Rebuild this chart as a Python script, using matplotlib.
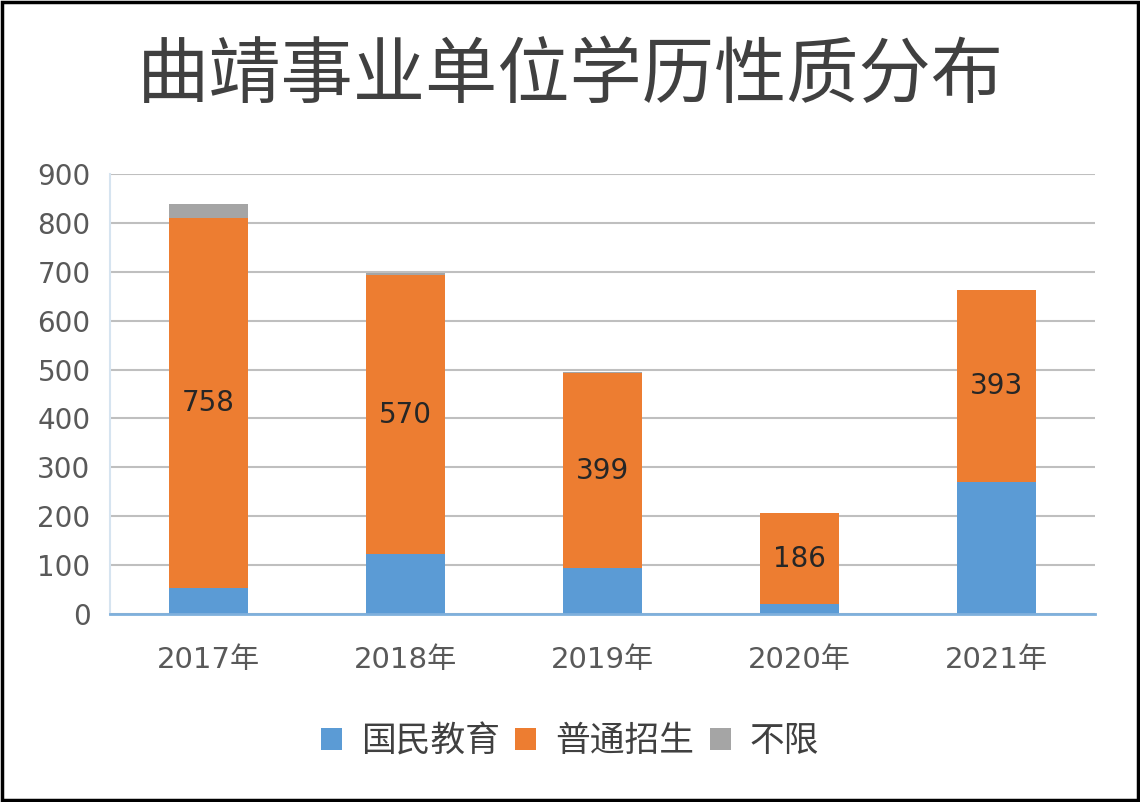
import numpy as np
import matplotlib.pyplot as plt
from matplotlib.patches import Rectangle

plt.rcParams['font.family'] = ['Noto Sans CJK SC', 'DejaVu Sans']
num_font = ['DejaVu Sans', 'Noto Sans CJK SC']

years = ['2017年', '2018年', '2019年', '2020年', '2021年']
guomin = [53, 123, 94, 20, 270]      # 国民教育
putong = [758, 570, 399, 186, 393]   # 普通招生
buxian = [27, 4, 2, 0, 0]            # 不限

blue = '#5B9BD5'
orange = '#ED7D31'
gray = '#A5A5A5'
text_col = '#595959'

fig = plt.figure(figsize=(11.4, 8.02), dpi=100)
ax = fig.add_axes([0.0965, 0.2344, 0.864, 0.5486])

x = np.arange(len(years))
w = 0.4
b1 = ax.bar(x, guomin, w, color=blue, label='国民教育', zorder=3)
b2 = ax.bar(x, putong, w, bottom=guomin, color=orange, label='普通招生', zorder=3)
bottom3 = np.array(guomin) + np.array(putong)
b3 = ax.bar(x, buxian, w, bottom=bottom3, color=gray, label='不限', zorder=3)

# value labels in the middle of the orange segment
for xi, g, p in zip(x, guomin, putong):
    ax.text(xi, g + p / 2, str(p), ha='center', va='center',
            fontsize=20, color='#262626', family=num_font, zorder=4)

ax.set_xlim(-0.5, 4.5)
ax.set_ylim(0, 900)
ax.set_yticks(range(0, 901, 100))
ax.set_xticks(x)
ax.set_xticklabels(years)
ax.tick_params(axis='both', length=0, labelcolor=text_col)
ax.tick_params(axis='x', pad=23)
ax.tick_params(axis='y', pad=14)
for lab in ax.get_yticklabels():
    lab.set_family(num_font)
    lab.set_fontsize(20)
for lab in ax.get_xticklabels():
    lab.set_family(num_font)
    lab.set_fontsize(21)
ax.grid(axis='y', color='#BFBFBF', linewidth=1.5, zorder=0)

for s in ['top', 'right']:
    ax.spines[s].set_visible(False)
ax.spines['left'].set_color('#D6E4F0')
ax.spines['left'].set_linewidth(1.5)
ax.spines['bottom'].set_color('#7FB0DC')
ax.spines['bottom'].set_linewidth(2)
ax.spines['bottom'].set_zorder(5)

fig.text(0.5, 0.905, '曲靖事业单位学历性质分布', ha='center', va='center',
         fontsize=52, color='#404040')

leg = fig.legend(handles=[b1, b2, b3], loc='center', bbox_to_anchor=(0.5, 0.075),
                 ncol=3, frameon=False, fontsize=25, handlelength=0.6,
                 handleheight=0.6, handletextpad=0.55, columnspacing=0.45)
for t in leg.get_texts():
    t.set_color('#404040')

fig.patches.append(Rectangle((0.002, 0.002), 0.996, 0.996, transform=fig.transFigure,
                             fill=False, edgecolor='black', linewidth=2.5))

fig.savefig('out.png', dpi=100, facecolor='white')
